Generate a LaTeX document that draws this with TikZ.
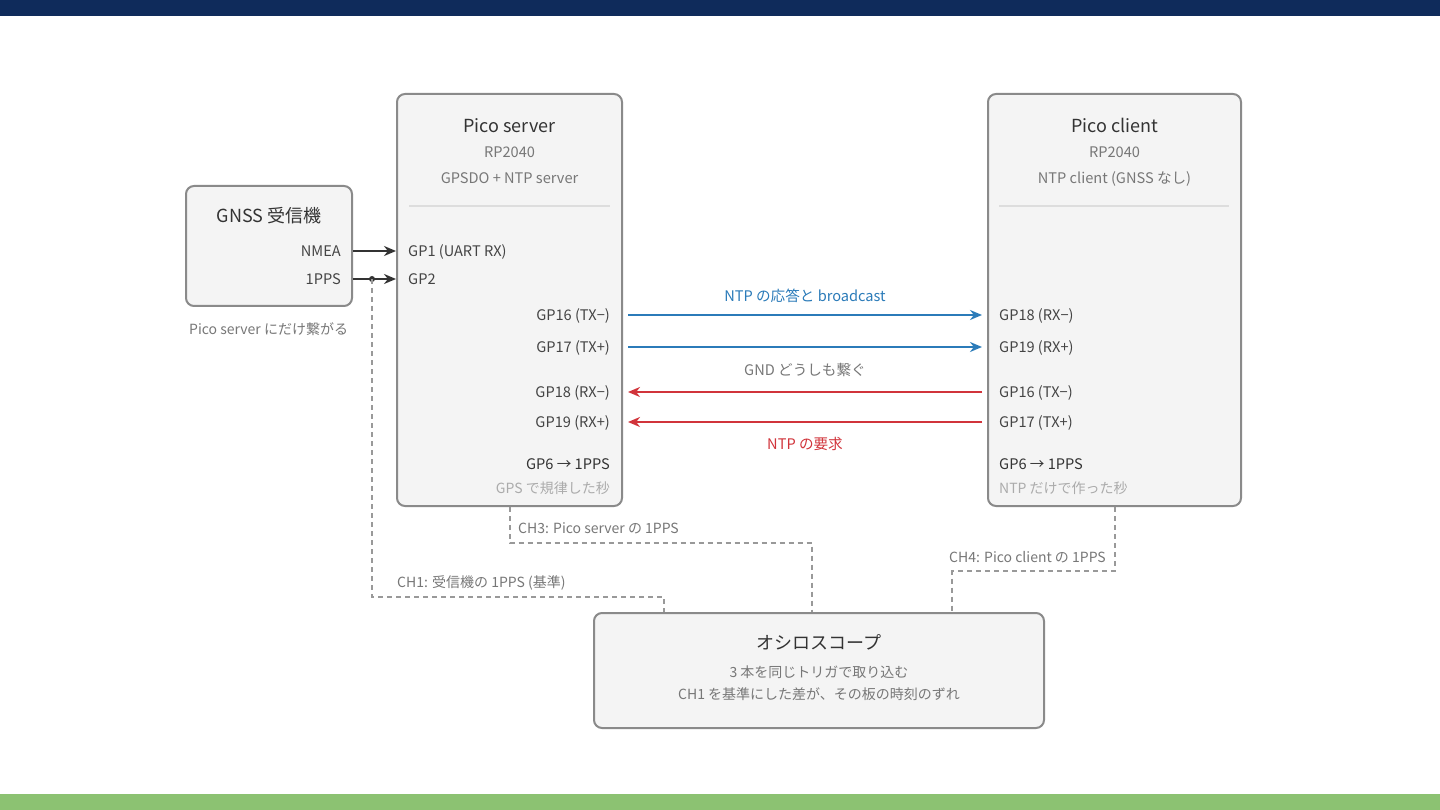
\documentclass[tikz,border=0pt]{standalone}
\usepackage{fontspec}
\setmainfont{Noto Sans CJK JP}
\usetikzlibrary{arrows.meta}
\definecolor{navy}{HTML}{0F2B5B}
\definecolor{grn}{HTML}{8CC272}
\definecolor{boxfill}{HTML}{F4F4F4}
\definecolor{boxline}{HTML}{8A8A8A}
\definecolor{txtdark}{HTML}{333333}
\definecolor{txtmid}{HTML}{444444}
\definecolor{txtgray}{HTML}{777777}
\definecolor{txtlight}{HTML}{ABABAB}
\definecolor{blu}{HTML}{2B7BB9}
\definecolor{rd}{HTML}{D1343B}
\definecolor{dashc}{HTML}{999999}
\definecolor{sepc}{HTML}{DDDDDD}
\begin{document}
\begin{tikzpicture}[x=1pt,y=-1pt,
 box/.style={draw=boxline, fill=boxfill, rounded corners=8pt, line width=2pt},
 ttl/.style={font=\fontsize{18}{20}\selectfont, text=txtdark, inner sep=0pt, text height=13.1pt, text depth=0pt},
 sub/.style={font=\fontsize{14.6}{16}\selectfont, text=txtgray, inner sep=0pt, text height=10.6pt, text depth=0pt},
 smalltxt/.style={font=\fontsize{14}{16}\selectfont, text=txtgray, inner sep=0pt, text height=10.2pt, text depth=0pt},
 pin/.style={font=\fontsize{14.6}{16}\selectfont, text=txtmid, inner sep=0pt, text height=10.6pt, text depth=0pt},
 note/.style={font=\fontsize{14}{16}\selectfont, text=txtlight, inner sep=0pt, text height=10.2pt, text depth=0pt},
 wire/.style={line width=2.2pt, -{Stealth[length=12pt,width=10pt]}},
 dsh/.style={draw=dashc, line width=2pt, dash pattern=on 5pt off 4pt},
 sep/.style={draw=sepc, line width=1.6pt}
]
\useasboundingbox (0,0) rectangle (1440,810);
\fill[white] (0,0) rectangle (1440,810);
\fill[navy] (0,0) rectangle (1440,16);
\fill[grn] (0,794) rectangle (1440,810);

% GNSS receiver
\node[box, minimum width=166pt, minimum height=120pt] (gnss) at (269,246) {};
\node[ttl] (gnsst) at (269,216) {GNSS 受信機};
\node[pin, anchor=east] (nmea) at (341,251) {NMEA};
\node[pin, anchor=east] (pps) at (341,279) {1PPS};
\node[smalltxt, anchor=west] (gnssnote) at (189,329) {Pico server にだけ繋がる};

% Pico server
\node[box, minimum width=225pt, minimum height=412pt] (srv) at (509.5,300) {};
\node[ttl] (srvt) at (509.5,126) {Pico server};
\node[sub] (srvs1) at (509.5,152) {RP2040};
\node[sub] (srvs2) at (509.5,178) {GPSDO + NTP server};
\draw[sep] (409,206) -- (610,206);
\node[pin, anchor=west] (sgp1) at (408,251) {GP1 (UART RX)};
\node[pin, anchor=west] (sgp2) at (408,279) {GP2};
\node[pin, anchor=east] (sgp16) at (610,315) {GP16 (TX−)};
\node[pin, anchor=east] (sgp17) at (610,347) {GP17 (TX+)};
\node[pin, anchor=east] (sgp18) at (610,392) {GP18 (RX−)};
\node[pin, anchor=east] (sgp19) at (610,422) {GP19 (RX+)};
\node[pin, anchor=east, text=txtdark] (sgp6) at (610,464) {GP6 → 1PPS};
\node[note, anchor=east] (snote) at (610,488) {GPS で規律した秒};

% Pico client
\node[box, minimum width=253pt, minimum height=412pt] (cli) at (1114.5,300) {};
\node[ttl] (clit) at (1114.5,126) {Pico client};
\node[sub] (clis1) at (1114.5,152) {RP2040};
\node[sub] (clis2) at (1114.5,178) {NTP client (GNSS なし)};
\draw[sep] (999,206) -- (1229,206);
\node[pin, anchor=west] (cgp18) at (999,315) {GP18 (RX−)};
\node[pin, anchor=west] (cgp19) at (999,347) {GP19 (RX+)};
\node[pin, anchor=west] (cgp16) at (999,392) {GP16 (TX−)};
\node[pin, anchor=west] (cgp17) at (999,422) {GP17 (TX+)};
\node[pin, anchor=west, text=txtdark] (cgp6) at (999,464) {GP6 → 1PPS};
\node[note, anchor=west] (cnote) at (999,488) {NTP だけで作った秒};

% Oscilloscope
\node[box, minimum width=450pt, minimum height=115pt] (scope) at (819,670.5) {};
\node[ttl] (scopet) at (819,643) {オシロスコープ};
\node[smalltxt] (scopes1) at (819,672) {3 本を同じトリガで取り込む};
\node[smalltxt] (scopes2) at (819,694) {CH1 を基準にした差が、その板の時刻のずれ};

% GNSS -> server
\draw[wire, txtdark] (gnss.east |- nmea) -- (srv.west |- sgp1);
\draw[wire, txtdark] (gnss.east |- pps) -- (srv.west |- sgp2);
\coordinate (tap) at (372,279);
\fill[txtdark] (tap) circle (3pt);

% NTP lines
\draw[wire, blu, shorten <=5pt, shorten >=5pt] (srv.east |- sgp16) -- (cli.west |- cgp18);
\draw[wire, blu, shorten <=5pt, shorten >=5pt] (srv.east |- sgp17) -- (cli.west |- cgp19);
\draw[wire, rd, shorten <=5pt, shorten >=5pt] (cli.west |- cgp16) -- (srv.east |- sgp18);
\draw[wire, rd, shorten <=5pt, shorten >=5pt] (cli.west |- cgp17) -- (srv.east |- sgp19);
\node[pin, text=blu] (lblresp) at (805,296) {NTP の応答と broadcast};
\node[pin, text=txtgray] (lblgnd) at (805,370) {GND どうしも繋ぐ};
\node[pin, text=rd] (lblreq) at (805,444) {NTP の要求};

% probe lines
\draw[dsh] (tap) -- (372,597) -- (664,597) -- (scope.north -| 664,0);
\draw[dsh] (srv.south) -- (509.5,543) -- (812,543) -- (scope.north -| 812,0);
\draw[dsh] (cli.south) -- (1114.5,571) -- (952,571) -- (scope.north -| 952,0);
\node[smalltxt, anchor=west] (ch1) at (397,582) {CH1: 受信機の 1PPS (基準)};
\node[smalltxt, anchor=west] (ch3) at (518,528) {CH3: Pico server の 1PPS};
\node[smalltxt, anchor=east] (ch4) at (1106,557) {CH4: Pico client の 1PPS};
\end{tikzpicture}
\end{document}
